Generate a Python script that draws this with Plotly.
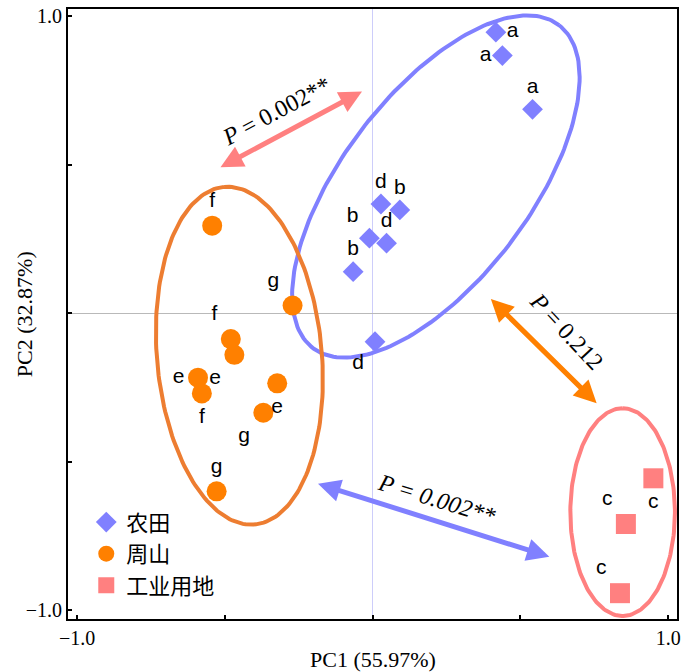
import numpy as np
import plotly.graph_objects as go

# ---------------- data ----------------
farm_x = [0.417, 0.439, 0.541, 0.028, 0.092, -0.011, 0.047, -0.066, 0.008]
farm_y = [0.947, 0.868, 0.687, 0.368, 0.348, 0.253, 0.236, 0.140, -0.096]
farm_lab = ["a", "a", "a", "d", "b", "b", "d", "b", "d"]
farm_pos = ["middle right", "middle left", "top center", "top center", "top center",
            "top left", "top center", "top center", "bottom left"]

hill_x = [-0.543, -0.271, -0.480, -0.468, -0.591, -0.578, -0.323, -0.370, -0.528]
hill_y = [0.295, 0.026, -0.087, -0.140, -0.217, -0.270, -0.236, -0.335, -0.600]
hill_lab = ["f", "g", "f", "e", "e", "f", "e", "g", "g"]
hill_pos = ["top center", "top left", "top left", "bottom left", "middle left",
            "bottom center", "bottom center", "bottom left", "top center"]

ind_x = [0.950, 0.857, 0.837]
ind_y = [-0.556, -0.710, -0.943]
ind_lab = ["c", "c", "c"]
ind_pos = ["bottom center", "top left", "top left"]

# ellipses: center x, center y, semi-major, semi-minor, angle (deg)
ell_farm = [0.214, 0.427, 0.685, 0.316, 52.5]
ell_hill = [-0.451, -0.143, 0.571, 0.279, 95.2]
ell_ind = [0.846, -0.670, 0.350, 0.177, 90.0]

# arrows (start, end)
arr_red = [(-0.520, 0.489), (-0.036, 0.747)]
arr_orange = [(0.395, 0.053), (0.758, -0.303)]
arr_blue = [(-0.190, -0.573), (0.598, -0.820)]

C_BLUE = "rgb(128,128,255)"
C_ORANGE = "rgb(255,128,0)"
C_RED = "rgb(255,128,128)"
C_ORANGE_ELL = "rgb(237,125,49)"

SERIF = "Liberation Serif"
SANS = "Liberation Sans"
CJK = "Noto Sans CJK SC"


def ellipse(p, n=200):
    cx, cy, a, b, ang = p
    t = np.linspace(0, 2 * np.pi, n)
    th = np.deg2rad(ang)
    x = cx + a * np.cos(t) * np.cos(th) - b * np.sin(t) * np.sin(th)
    y = cy + a * np.cos(t) * np.sin(th) + b * np.sin(t) * np.cos(th)
    return x, y


fig = go.Figure()

for p, c in [(ell_farm, C_BLUE), (ell_hill, C_ORANGE_ELL), (ell_ind, C_RED)]:
    ex, ey = ellipse(p)
    fig.add_trace(go.Scatter(x=ex, y=ey, mode="lines", line=dict(color=c, width=4),
                             showlegend=False, hoverinfo="skip"))

lab_font = dict(family=SANS, size=21, color="black")
fig.add_trace(go.Scatter(x=farm_x, y=farm_y, mode="markers+text", name="农田",
                         text=farm_lab, textposition=farm_pos, textfont=lab_font,
                         marker=dict(symbol="diamond", size=16, color=C_BLUE)))
fig.add_trace(go.Scatter(x=hill_x, y=hill_y, mode="markers+text", name="周山",
                         text=hill_lab, textposition=hill_pos, textfont=lab_font,
                         marker=dict(symbol="circle", size=20, color=C_ORANGE)))
fig.add_trace(go.Scatter(x=ind_x, y=ind_y, mode="markers+text", name="工业用地",
                         text=ind_lab, textposition=ind_pos, textfont=lab_font,
                         marker=dict(symbol="square", size=20, color=C_RED)))

for arr, c in [(arr_red, C_RED), (arr_orange, C_ORANGE), (arr_blue, C_BLUE)]:
    (x0, y0), (x1, y1) = arr
    fig.add_annotation(x=x1, y=y1, ax=x0, ay=y0, xref="x", yref="y", axref="x", ayref="y",
                       text="", showarrow=True, arrowside="end+start",
                       arrowhead=2, startarrowhead=2, arrowsize=0.9, startarrowsize=0.9,
                       arrowwidth=5, arrowcolor=c)

p_font = dict(family=SERIF, size=24, color="black")
fig.add_annotation(x=-0.325, y=0.68, xref="x", yref="y", showarrow=False,
                   text="<i>P</i> = 0.002**", textangle=-28, font=p_font)
fig.add_annotation(x=0.655, y=-0.06, xref="x", yref="y", showarrow=False,
                   text="<i>P</i> = 0.212", textangle=47, font=p_font)
fig.add_annotation(x=0.215, y=-0.625, xref="x", yref="y", showarrow=False,
                   text="<i>P = 0.002**</i>", textangle=17, font=p_font)

title_font = dict(family=SERIF, size=22, color="black")
fig.add_annotation(x=0.5, y=-0.042, xref="paper", yref="paper", xanchor="center", yanchor="top",
                   showarrow=False, text="PC1 (55.97%)", font=title_font)
fig.add_annotation(x=-0.072, y=0.5, xref="paper", yref="paper", xanchor="center", yanchor="middle",
                   showarrow=False, text="PC2 (32.87%)", textangle=-90, font=title_font)

ticks = [-1, -0.5, 0, 0.5, 1]
ticktext = ["\u22121.0", "", "", "", "1.0"]
tick_font = dict(family=SERIF, size=20, color="black")

fig.update_xaxes(range=[-1.031, 1.030], tickvals=ticks, ticktext=ticktext,
                 ticks="inside", ticklen=4, tickwidth=1.5, tickcolor="black",
                 showline=True, linecolor="black", linewidth=2, mirror=True,
                 showgrid=False, zeroline=True, zerolinecolor="rgb(205,205,250)", zerolinewidth=1,
                 tickfont=tick_font, automargin=False)
fig.update_yaxes(range=[-1.03, 1.025], tickvals=ticks, ticktext=ticktext,
                 ticks="inside", ticklen=4, tickwidth=1.5, tickcolor="black",
                 showline=True, linecolor="black", linewidth=2, mirror=True,
                 showgrid=False, zeroline=True, zerolinecolor="rgb(185,185,185)", zerolinewidth=1,
                 tickfont=tick_font, automargin=False)

fig.update_layout(width=700, height=672, margin=dict(l=68, r=23, t=9, b=53, autoexpand=False),
                  plot_bgcolor="white", paper_bgcolor="white",
                  legend=dict(x=0.03, y=0.193, xanchor="left", yanchor="top",
                              bgcolor="rgba(0,0,0,0)",
                              font=dict(family=CJK, size=22, color="black"),
                              tracegroupgap=0, itemsizing="trace"))

fig.write_html("out.html", config={"displayModeBar": False},
               post_script="document.body.style.margin='0';")
